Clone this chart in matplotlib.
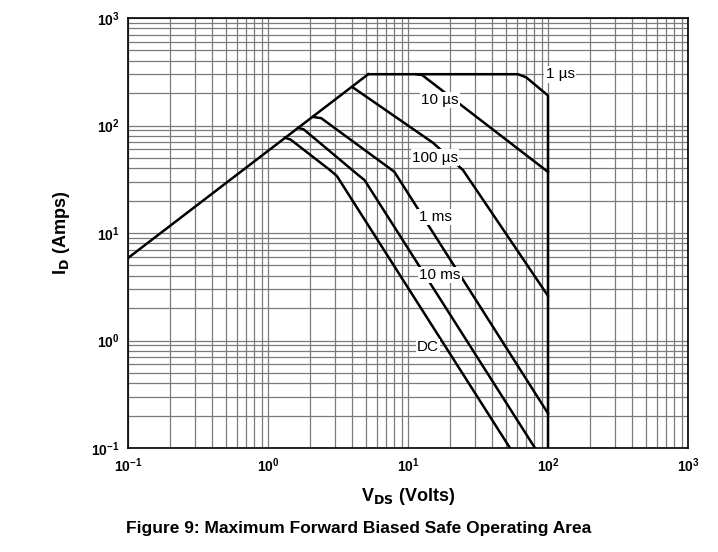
import numpy as np
import matplotlib.pyplot as plt

plt.rcParams['font.family'] = ['Liberation Sans', 'DejaVu Sans']
plt.rcParams['mathtext.default'] = 'bf'

# R_DS(on) limit line
rds_v = [0.1, 5.2]
rds_i = [5.85, 300]

# pulse-width curves (V, I)
curves = {
    '1 µs':   ([5.2, 61, 70, 100, 100], [300, 300, 280, 190, 0.1]),
    '10 µs':  ([11.5, 12.6, 100], [300, 295, 37]),
    '100 µs': ([4.0, 15.1, 24.7, 100], [228, 69, 38.5, 2.6]),
    '1 ms':   ([2.1, 2.4, 7.2, 8.0, 100], [120, 117, 41, 37, 0.21]),
    '10 ms':  ([1.64, 1.8, 4.4, 4.9, 80.7], [95, 92, 34.7, 31, 0.1]),
    'DC':     ([1.32, 1.45, 2.77, 3.1, 53.5], [77, 74, 38.5, 34, 0.1]),
}
label_pos = {
    '1 µs': (122, 300), '10 µs': (16.9, 173), '100 µs': (15.6, 50),
    '1 ms': (15.6, 14.1), '10 ms': (16.9, 4.06), 'DC': (13.9, 0.87),
}

fig = plt.figure(figsize=(7.18, 5.52), dpi=100)
ax = fig.add_axes([128/718, 1-448/552, 560/718, 430/552])
ax.set_xscale('log')
ax.set_yscale('log')
ax.set_xlim(0.1, 1000)
ax.set_ylim(0.1, 1000)
ax.grid(which='both', color='#7a7a7a', lw=0.9)
ax.set_axisbelow(True)

ax.plot(rds_v, rds_i, color='black', lw=1.8)
for name, (v, i) in curves.items():
    ax.plot(v, i, color='black', lw=1.8)
for name, (x, y) in label_pos.items():
    ax.text(x, y, name, fontsize=11, ha='center', va='center',
            bbox=dict(facecolor='white', edgecolor='none', pad=1))

for s in ax.spines.values():
    s.set_linewidth(1.2)
ax.tick_params(which='both', length=0, labelsize=10, pad=6)
for t in ax.get_xticklabels() + ax.get_yticklabels():
    t.set_fontweight('bold')
ax.set_xlabel('V$_{\\mathbf{DS}}$ (Volts)', fontsize=13, fontweight='bold', labelpad=8)
ax.set_ylabel('I$_{\\mathbf{D}}$ (Amps)', fontsize=13, fontweight='bold', labelpad=14)
fig.text(0.5, 0.035, 'Figure 9: Maximum Forward Biased Safe Operating Area',
         ha='center', fontsize=12.5, fontweight='bold')
fig.savefig('out.png', dpi=100)
